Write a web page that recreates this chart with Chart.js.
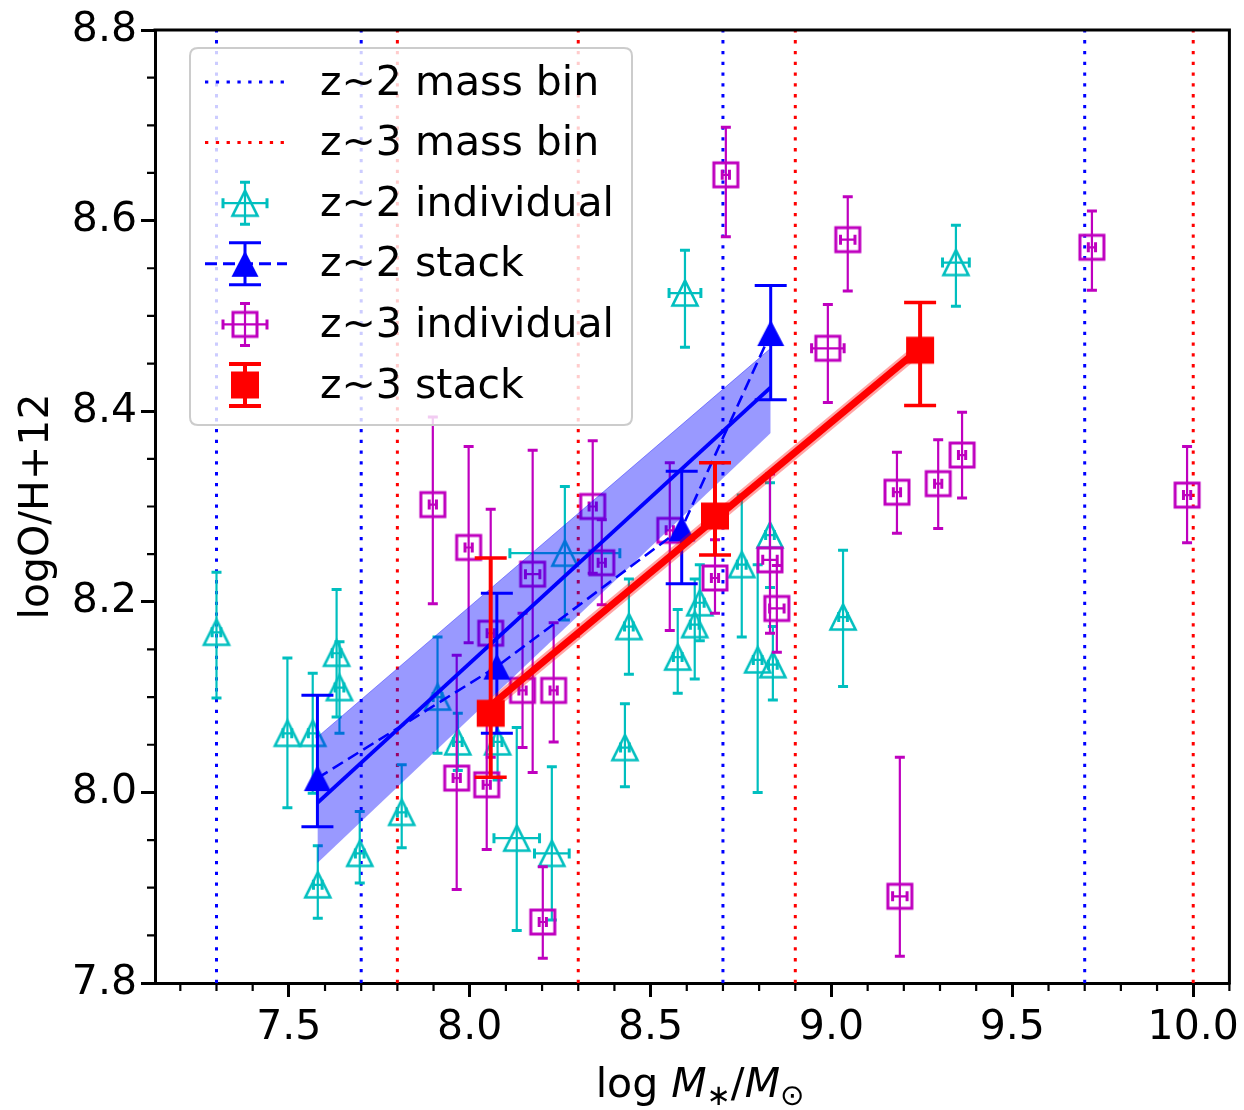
<!DOCTYPE html>
<html>
<head>
<meta charset="utf-8">
<script src="https://cdn.jsdelivr.net/npm/chart.js@4.4.0/dist/chart.umd.min.js"></script>
<style>
  html, body { margin: 0; padding: 0; background: #fff; }
  #wrap { width: 1244px; height: 1110px; }
</style>
</head>
<body>
<div id="wrap"><canvas id="chart" width="1244" height="1110"></canvas></div>
<script>
/* --------------- Data ----------------------------------------- */
// z~2 individual galaxies (open cyan triangles)
const z2Mass = [7.30, 7.496, 7.566, 7.58, 7.632, 7.64, 7.696, 7.812, 7.911, 7.967, 8.077, 8.13, 8.227, 8.263, 8.44, 8.429, 8.575, 8.622, 8.636, 8.595, 8.752, 8.83, 8.796, 8.838, 9.032, 9.344];
const z2OH = [8.168, 8.062, 8.062, 7.903, 8.146, 8.11, 7.936, 7.979, 8.10, 8.053, 8.053, 7.952, 7.936, 8.251, 8.174, 8.047, 8.142, 8.176, 8.199, 8.524, 8.239, 8.27, 8.139, 8.134, 8.184, 8.556];
const z2ErrHi = [0.063, 0.079, 0.063, 0.041, 0.067, 0.048, 0.044, 0.05, 0.063, 0.03, 0.04, 0.116, 0.091, 0.07, 0.05, 0.046, 0.05, 0.048, 0.04, 0.045, 0.073, 0.055, 0.10, 0.04, 0.07, 0.039];
const z2ErrLo = [0.069, 0.078, 0.063, 0.035, 0.067, 0.048, 0.031, 0.037, 0.059, 0.03, 0.04, 0.097, 0.07, 0.07, 0.05, 0.041, 0.038, 0.057, 0.04, 0.057, 0.076, 0.055, 0.139, 0.037, 0.073, 0.046];
const z2MassErr = [0.012, 0.012, 0.012, 0.012, 0.012, 0.012, 0.012, 0.012, 0.012, 0.012, 0.012, 0.063, 0.048, 0.152, 0.012, 0.012, 0.012, 0.012, 0.012, 0.044, 0.012, 0.012, 0.012, 0.012, 0.012, 0.037];

// z~3 individual galaxies (open magenta squares)
const z3Mass = [7.898, 7.997, 8.174, 8.058, 8.146, 8.232, 7.964, 8.047, 8.202, 8.34, 8.365, 8.553, 8.678, 8.83, 8.849, 8.708, 9.045, 8.99, 9.181, 9.295, 9.361, 9.189, 9.72, 9.983];
const z3OH = [8.302, 8.257, 8.229, 8.167, 8.107, 8.107, 8.015, 8.008, 7.864, 8.30, 8.241, 8.275, 8.225, 8.244, 8.193, 8.648, 8.58, 8.466, 8.315, 8.324, 8.354, 7.891, 8.572, 8.312];
const z3ErrHi = [0.092, 0.106, 0.13, 0.13, 0.081, 0.071, 0.129, 0.068, 0.058, 0.069, 0.045, 0.071, 0.04, 0.09, 0.045, 0.05, 0.045, 0.046, 0.042, 0.046, 0.045, 0.146, 0.038, 0.051];
const z3ErrLo = [0.104, 0.10, 0.208, 0.13, 0.06, 0.054, 0.117, 0.068, 0.038, 0.07, 0.044, 0.105, 0.037, 0.077, 0.046, 0.065, 0.054, 0.057, 0.043, 0.047, 0.045, 0.063, 0.045, 0.05];
const z3MassErr = [0.01, 0.01, 0.02, 0.01, 0.01, 0.01, 0.01, 0.01, 0.01, 0.01, 0.01, 0.01, 0.01, 0.02, 0.02, 0.01, 0.02, 0.045, 0.01, 0.01, 0.01, 0.02, 0.01, 0.01];

// stacked spectra
const z2StackMass = [7.579, 8.075, 8.586, 8.832];
const z2StackOH = [8.015, 8.132, 8.277, 8.482];
const z2StackErrHi = [0.087, 0.077, 0.06, 0.05];
const z2StackErrLo = [0.051, 0.07, 0.058, 0.07];
const z3StackMass = [8.058, 8.678, 9.245];
const z3StackOH = [8.083, 8.29, 8.464];
const z3StackErrHi = [0.163, 0.056, 0.05];
const z3StackErrLo = [0.067, 0.041, 0.058];

// linear fits (z~2 with its confidence band)
const z2FitMass = [7.579, 8.832];
const z2FitOH = [7.989, 8.425];
const z2BandLo = [7.926, 8.377];
const z2BandHi = [8.058, 8.466];
const z3FitMass = [8.058, 9.245];
const z3FitOH = [8.091, 8.466];

// mass bin edges
const z2BinEdges = [7.3, 7.7, 8.7, 9.7];
const z3BinEdges = [7.8, 8.3, 8.9, 10.0];

const legendLabels = ["z~2 mass bin", "z~3 mass bin", "z~2 individual", "z~2 stack", "z~3 individual", "z~3 stack"];

/* --------------- Styles --------------------- */
const FONT = "'DejaVu Sans', sans-serif";
const CYAN = "#00bfbf";
const MAG = "#bf00bf";
const BLUE = "#0000ff";
const RED = "#ff0000";

function markerCanvas(size, draw) {
  const c = document.createElement("canvas");
  c.width = size;
  c.height = size;
  const g = c.getContext("2d");
  g.translate(size / 2, size / 2);
  draw(g);
  return c;
}
const triOpen = markerCanvas(34, (g) => {
  g.beginPath();
  g.moveTo(0, -12.5); g.lineTo(-12.5, 12.5); g.lineTo(12.5, 12.5); g.closePath();
  g.lineWidth = 2.6; g.strokeStyle = CYAN; g.stroke();
});
const sqOpen = markerCanvas(34, (g) => {
  g.lineWidth = 3; g.strokeStyle = MAG;
  g.strokeRect(-12, -12, 24, 24);
});
const triFilled = markerCanvas(34, (g) => {
  g.beginPath();
  g.moveTo(0, -13); g.lineTo(-13.5, 13); g.lineTo(13.5, 13); g.closePath();
  g.fillStyle = BLUE; g.fill();
});
const sqFilled = markerCanvas(34, (g) => {
  g.fillStyle = RED;
  g.fillRect(-14, -13.5, 28, 27);
});

const pts = (xs, ys) => xs.map((v, i) => ({ x: v, y: ys[i] }));

/* --------------- Error bars drawn through the scales --------------------- */
function strokeErrors(ctx, xs, ys, eb, x, y) {
  ctx.strokeStyle = eb.color;
  xs.forEach((mx, i) => {
    const px = x.getPixelForValue(mx);
    const py = y.getPixelForValue(ys[i]);
    const yTop = y.getPixelForValue(ys[i] + eb.hi[i]);
    const yBot = y.getPixelForValue(ys[i] - eb.lo[i]);
    ctx.lineWidth = eb.width;
    ctx.beginPath(); ctx.moveTo(px, yTop); ctx.lineTo(px, yBot); ctx.stroke();
    ctx.lineWidth = eb.capWidth;
    ctx.beginPath();
    ctx.moveTo(px - eb.cap, yTop); ctx.lineTo(px + eb.cap, yTop);
    ctx.moveTo(px - eb.cap, yBot); ctx.lineTo(px + eb.cap, yBot);
    ctx.stroke();
    if (eb.xerr) {
      const xL = x.getPixelForValue(mx - eb.xerr[i]);
      const xR = x.getPixelForValue(mx + eb.xerr[i]);
      ctx.lineWidth = eb.width;
      ctx.beginPath(); ctx.moveTo(xL, py); ctx.lineTo(xR, py); ctx.stroke();
      ctx.lineWidth = eb.capWidth;
      ctx.beginPath();
      ctx.moveTo(xL, py - eb.cap); ctx.lineTo(xL, py + eb.cap);
      ctx.moveTo(xR, py - eb.cap); ctx.lineTo(xR, py + eb.cap);
      ctx.stroke();
    }
  });
}

const errorBarPlugin = {
  id: "errorBars",
  beforeDatasetDraw(chart, args) {
    const ds = chart.data.datasets[args.index];
    if (!ds.errorBars) return;
    const { ctx, chartArea: a, scales } = chart;
    ctx.save();
    ctx.beginPath();
    ctx.rect(a.left, a.top, a.right - a.left, a.bottom - a.top);
    ctx.clip();
    strokeErrors(ctx, ds.data.map((p) => p.x), ds.data.map((p) => p.y), ds.errorBars, scales.x, scales.y);
    ctx.restore();
  },
};

/* --------------- Frame, minor ticks, titles, legend --------------------- */
function drawXTitle(ctx) {
  const big = `41px ${FONT}`;
  const ital = `oblique 41px ${FONT}`;
  const small = `29px ${FONT}`;
  const parts = [
    { t: "log", f: big, dy: 0 },
    { t: " ", f: big, dy: 0 },
    { t: "M", f: ital, dy: 0 },
    { t: "\u2217", f: small, dy: 8 },
    { t: "/", f: big, dy: 0 },
    { t: "M", f: ital, dy: 0 },
    { t: "\u2299", f: small, dy: 8 },
  ];
  let total = 0;
  parts.forEach((p) => { ctx.font = p.f; p.w = ctx.measureText(p.t).width; total += p.w; });
  let cx = 700 - total / 2;
  ctx.fillStyle = "#000";
  ctx.textBaseline = "alphabetic";
  ctx.textAlign = "left";
  parts.forEach((p) => { ctx.font = p.f; ctx.fillText(p.t, cx, 1097 + p.dy); cx += p.w; });
}

function drawLegend(ctx) {
  const L = 190, T = 48, R = 632, B = 425, r = 8;
  ctx.save();
  ctx.beginPath();
  ctx.moveTo(L + r, T); ctx.lineTo(R - r, T); ctx.quadraticCurveTo(R, T, R, T + r);
  ctx.lineTo(R, B - r); ctx.quadraticCurveTo(R, B, R - r, B);
  ctx.lineTo(L + r, B); ctx.quadraticCurveTo(L, B, L, B - r);
  ctx.lineTo(L, T + r); ctx.quadraticCurveTo(L, T, L + r, T);
  ctx.closePath();
  ctx.fillStyle = "rgba(255,255,255,0.8)";
  ctx.fill();
  ctx.lineWidth = 2;
  ctx.strokeStyle = "#cccccc";
  ctx.stroke();

  const gx = 245;
  legendLabels.forEach((label, k) => {
    const cy = 82 + 60.6 * k;
    ctx.setLineDash([]);
    if (k < 2) {
      ctx.strokeStyle = k === 0 ? BLUE : RED;
      ctx.lineWidth = 3;
      ctx.setLineDash([3.3, 7.5]);
      ctx.beginPath(); ctx.moveTo(205, cy); ctx.lineTo(287, cy); ctx.stroke();
      ctx.setLineDash([]);
    } else if (k === 2 || k === 4) {
      const col = k === 2 ? CYAN : MAG;
      ctx.strokeStyle = col;
      ctx.lineWidth = 2.2;
      ctx.beginPath();
      ctx.moveTo(gx, cy - 21); ctx.lineTo(gx, cy + 21);
      ctx.moveTo(gx - 22, cy); ctx.lineTo(gx + 22, cy);
      ctx.stroke();
      ctx.lineWidth = 3;
      ctx.beginPath();
      ctx.moveTo(gx - 5, cy - 21); ctx.lineTo(gx + 5, cy - 21);
      ctx.moveTo(gx - 5, cy + 21); ctx.lineTo(gx + 5, cy + 21);
      ctx.moveTo(gx - 22, cy - 5); ctx.lineTo(gx - 22, cy + 5);
      ctx.moveTo(gx + 22, cy - 5); ctx.lineTo(gx + 22, cy + 5);
      ctx.stroke();
      const img = k === 2 ? triOpen : sqOpen;
      ctx.drawImage(img, gx - img.width / 2, cy - img.height / 2);
    } else {
      const col = k === 3 ? BLUE : RED;
      ctx.strokeStyle = col;
      if (k === 3) {
        ctx.lineWidth = 3;
        ctx.setLineDash([12, 6]);
        ctx.beginPath(); ctx.moveTo(205, cy); ctx.lineTo(287, cy); ctx.stroke();
        ctx.setLineDash([]);
      }
      ctx.lineWidth = k === 3 ? 3 : 4;
      ctx.beginPath();
      ctx.moveTo(gx, cy - 21); ctx.lineTo(gx, cy + 21);
      ctx.moveTo(gx - 16, cy - 21); ctx.lineTo(gx + 16, cy - 21);
      ctx.moveTo(gx - 16, cy + 21); ctx.lineTo(gx + 16, cy + 21);
      ctx.stroke();
      const img = k === 3 ? triFilled : sqFilled;
      ctx.drawImage(img, gx - img.width / 2, cy - img.height / 2);
    }
    ctx.fillStyle = "#000";
    ctx.font = `41px ${FONT}`;
    ctx.textAlign = "left";
    ctx.textBaseline = "middle";
    ctx.fillText(label, 320, cy + 2);
  });
  ctx.restore();
}

const framePlugin = {
  id: "frame",
  afterDraw(chart) {
    const { ctx, chartArea: a, scales } = chart;
    ctx.save();
    ctx.strokeStyle = "#000";
    ctx.lineWidth = 3;
    ctx.beginPath();
    ctx.moveTo(a.left - 1.5, a.top); ctx.lineTo(a.right, a.top); ctx.lineTo(a.right, a.bottom + 1.5);
    ctx.stroke();
    // minor ticks
    ctx.lineWidth = 2.2;
    ctx.beginPath();
    for (let k = 72; k <= 101; k++) {
      if (k % 5 === 0) continue;
      const px = scales.x.getPixelForValue(k / 10);
      ctx.moveTo(px, a.bottom); ctx.lineTo(px, a.bottom + 8);
    }
    for (let k = 157; k <= 175; k++) {
      if (k % 4 === 0) continue;
      const py = scales.y.getPixelForValue(k / 20);
      ctx.moveTo(a.left, py); ctx.lineTo(a.left - 8, py);
    }
    ctx.stroke();
    // y title
    ctx.fillStyle = "#000";
    ctx.font = `41px ${FONT}`;
    ctx.translate(37, (a.top + a.bottom) / 2);
    ctx.rotate(-Math.PI / 2);
    ctx.textAlign = "center";
    ctx.textBaseline = "middle";
    ctx.fillText("logO/H+12", 0, 0);
    ctx.restore();
    ctx.save();
    drawXTitle(ctx);
    ctx.restore();
    drawLegend(ctx);
  },
};

/* --------------- Datasets --------------------- */
const binLines = [
  ...z2BinEdges.map((e) => ({ edge: e, color: BLUE })),
  ...z3BinEdges.map((e) => ({ edge: e, color: RED })),
].map((b) => ({
  type: "line",
  data: [{ x: b.edge, y: 7.8 }, { x: b.edge, y: 8.8 }],
  borderColor: b.color,
  borderWidth: 3,
  borderDash: [3.3, 7.5],
  pointRadius: 0,
  fill: false,
  order: 30,
}));

const datasets = [
  ...binLines,
  {
    label: "z~2 individual",
    data: pts(z2Mass, z2OH),
    pointStyle: triOpen,
    pointRadius: 12,
    order: 20,
    errorBars: { color: CYAN, width: 2.2, capWidth: 3, cap: 5, hi: z2ErrHi, lo: z2ErrLo, xerr: z2MassErr },
  },
  {
    label: "z~3 individual",
    data: pts(z3Mass, z3OH),
    pointStyle: sqOpen,
    pointRadius: 12,
    order: 19,
    errorBars: { color: MAG, width: 2.2, capWidth: 3, cap: 5, hi: z3ErrHi, lo: z3ErrLo, xerr: z3MassErr },
  },
  {
    type: "line",
    data: pts(z2FitMass, z2BandLo),
    borderWidth: 0,
    pointRadius: 0,
    fill: false,
    order: 18,
  },
  {
    type: "line",
    data: pts(z2FitMass, z2BandHi),
    borderWidth: 1,
    borderColor: "rgba(0,0,255,0.4)",
    backgroundColor: "rgba(0,0,255,0.4)",
    pointRadius: 0,
    fill: "-1",
    order: 17,
  },
  {
    type: "line",
    data: pts(z2FitMass, z2FitOH),
    borderColor: BLUE,
    borderWidth: 4,
    pointRadius: 0,
    fill: false,
    order: 16,
  },
  {
    type: "line",
    label: "z~2 stack",
    data: pts(z2StackMass, z2StackOH),
    borderColor: BLUE,
    borderWidth: 2.6,
    borderDash: [12, 6],
    pointStyle: triFilled,
    pointRadius: 12,
    fill: false,
    order: 15,
    errorBars: { color: BLUE, width: 3, capWidth: 3, cap: 16, hi: z2StackErrHi, lo: z2StackErrLo },
  },
  {
    type: "line",
    data: pts(z3FitMass, z3FitOH),
    borderColor: "rgba(255,0,0,0.35)",
    borderWidth: 12,
    pointRadius: 0,
    fill: false,
    order: 14,
  },
  {
    type: "line",
    data: pts(z3FitMass, z3FitOH),
    borderColor: RED,
    borderWidth: 7,
    pointRadius: 0,
    fill: false,
    order: 13,
  },
  {
    label: "z~3 stack",
    data: pts(z3StackMass, z3StackOH),
    pointStyle: sqFilled,
    pointRadius: 12,
    order: 12,
    errorBars: { color: RED, width: 4, capWidth: 3.5, cap: 16, hi: z3StackErrHi, lo: z3StackErrLo },
  },
];

/* --------------- Chart --------------------- */
const tickFont = { family: FONT, size: 41 };
const chart = new Chart(document.getElementById("chart"), {
  type: "scatter",
  data: { datasets },
  options: {
    responsive: false,
    devicePixelRatio: 1,
    animation: false,
    events: [],
    layout: { padding: { top: 30, right: 14, left: 0, bottom: 0 } },
    plugins: { legend: { display: false }, tooltip: { enabled: false } },
    scales: {
      x: {
        type: "linear",
        min: 7.13,
        max: 10.1,
        ticks: {
          stepSize: 0.5,
          includeBounds: false,
          autoSkip: false,
          maxRotation: 0,
          padding: 7,
          color: "#000",
          font: tickFont,
          callback: (v) => v.toFixed(1),
        },
        grid: { drawOnChartArea: false, tickLength: 14, tickWidth: 3, tickColor: "#000" },
        border: { display: true, color: "#000", width: 3 },
        afterFit: (s) => { s.height = 127; s.paddingLeft = 0; s.paddingRight = 0; },
      },
      y: {
        type: "linear",
        min: 7.8,
        max: 8.8,
        ticks: {
          stepSize: 0.2,
          autoSkip: false,
          padding: 4,
          color: "#000",
          font: tickFont,
          callback: (v) => v.toFixed(1),
        },
        grid: { drawOnChartArea: false, tickLength: 14, tickWidth: 3, tickColor: "#000" },
        border: { display: true, color: "#000", width: 3 },
        afterFit: (s) => { s.width = 155; s.paddingTop = 0; s.paddingBottom = 0; },
      },
    },
  },
  plugins: [errorBarPlugin, framePlugin],
});
</script>
</body>
</html>
